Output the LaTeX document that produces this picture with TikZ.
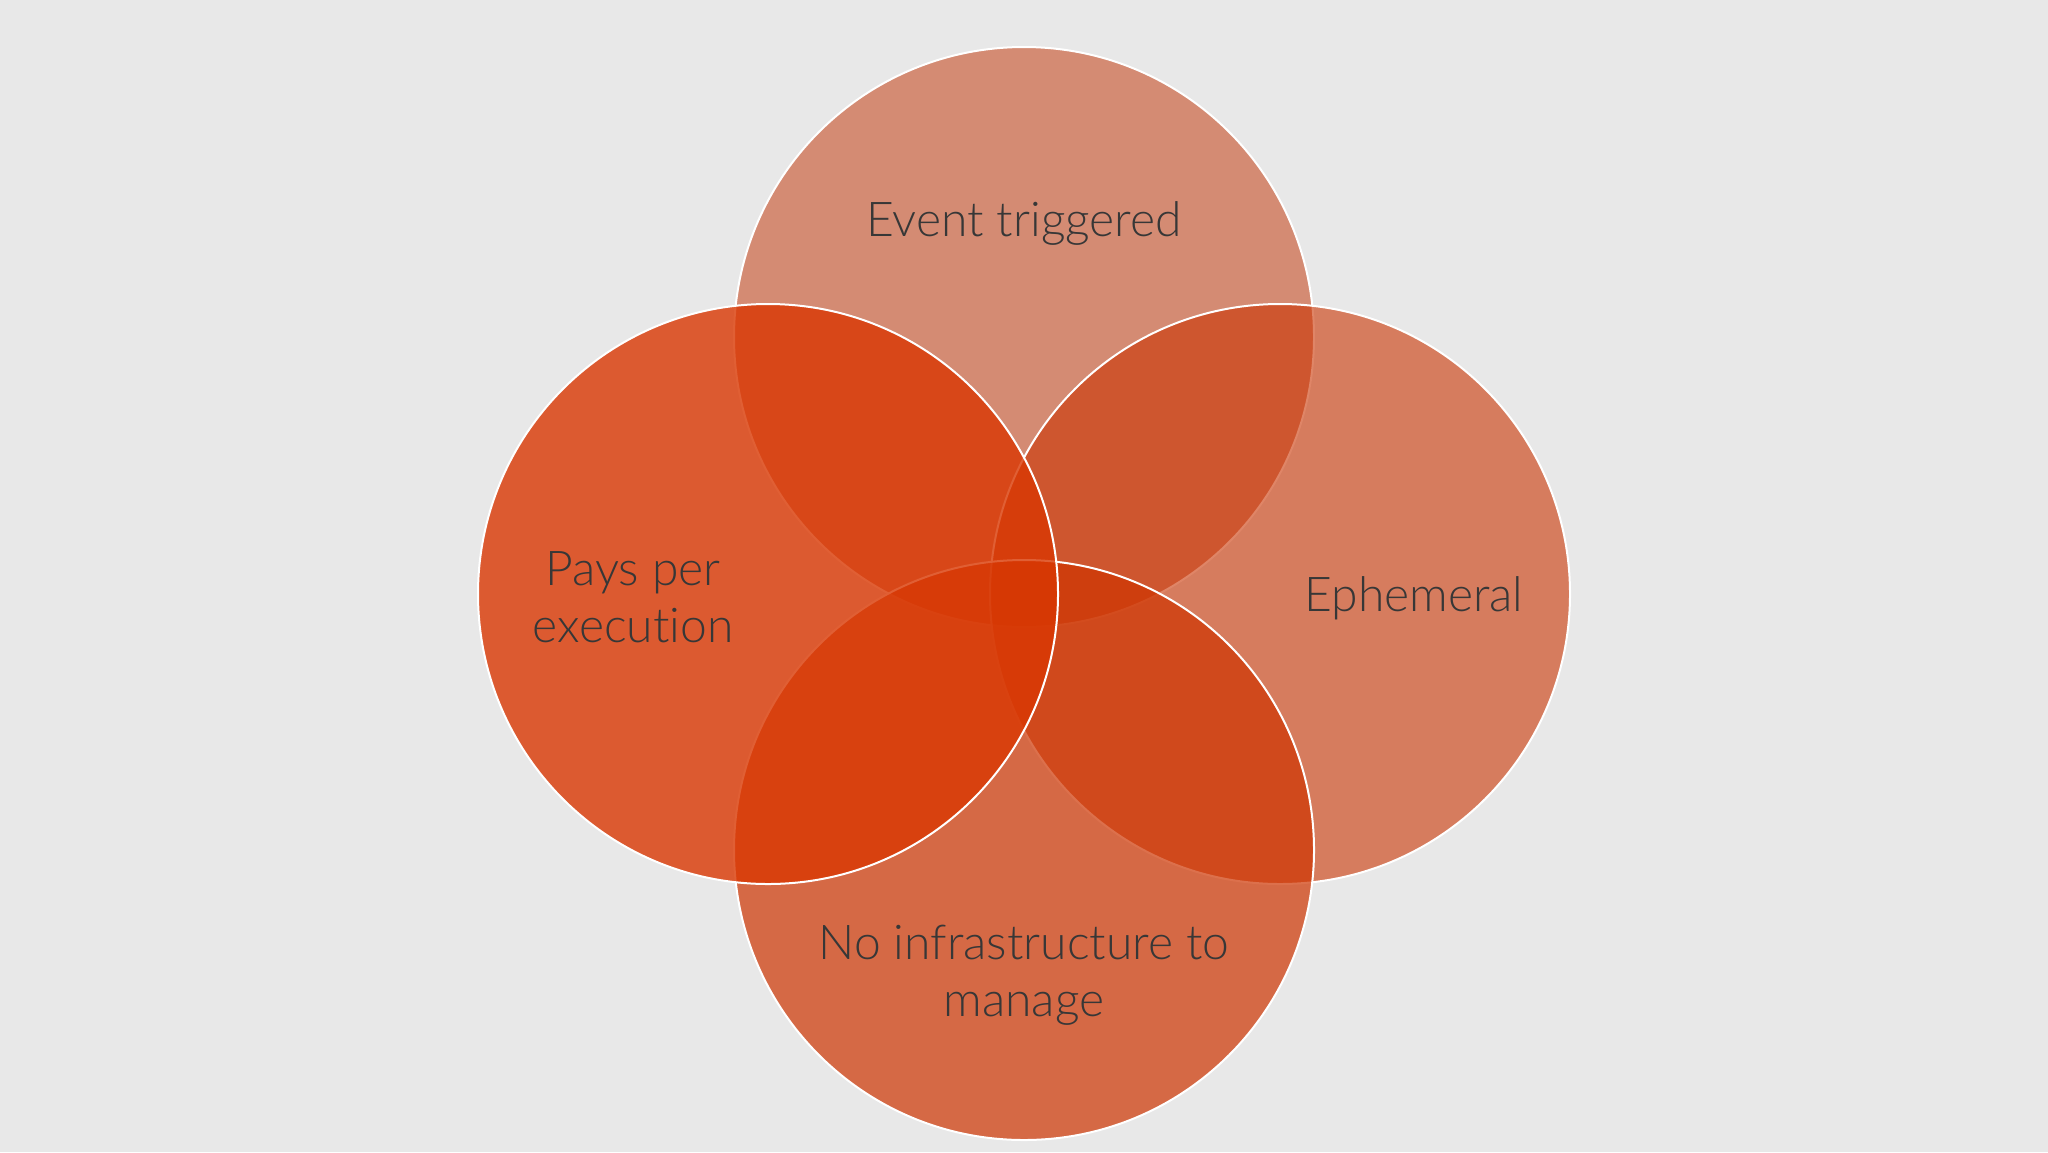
\documentclass[tikz,border=0pt]{standalone}
\usepackage{fontspec}
\setmainfont{Lato}[UprightFont=* Light,Ligatures={NoCommon,NoRequired,NoContextual}]
\definecolor{bg}{RGB}{232,232,232}
\definecolor{ctop}{RGB}{194,48,0}
\definecolor{cright}{RGB}{202,52,2}
\definecolor{cbottom}{RGB}{206,52,0}
\definecolor{cleft}{RGB}{217,55,2}
\definecolor{txt}{RGB}{55,55,55}
\begin{document}
\begin{tikzpicture}[x=0.5pt,y=-0.5pt,
  venn/.style={circle,minimum size=290pt,inner sep=0pt,draw=white,line width=1pt},
  lbl/.style={text=txt,font=\fontsize{24}{28.5}\selectfont,align=center,inner sep=0pt}]
\fill[bg] (0,0) rectangle (2048,1152);
\useasboundingbox (0,0) rectangle (2048,1152);
\node[venn,fill=ctop,fill opacity=0.5] (top) at (1024,337) {};
\node[venn,fill=cright,fill opacity=0.6] (right) at (1280,594) {};
\node[venn,fill=cbottom,fill opacity=0.7] (bottom) at (1024,850) {};
\node[venn,fill=cleft,fill opacity=0.8] (left) at (768,594) {};
\node[lbl] (ttop) at (1024,223) {Event triggered};
\node[lbl] (tleft) at (633,597) {Pays per\\execution};
\node[lbl] (tright) at (1414,598) {Ephemeral};
\node[lbl] (tbottom) at (1024,975) {No infrastructure to\\manage};
\end{tikzpicture}
\end{document}
